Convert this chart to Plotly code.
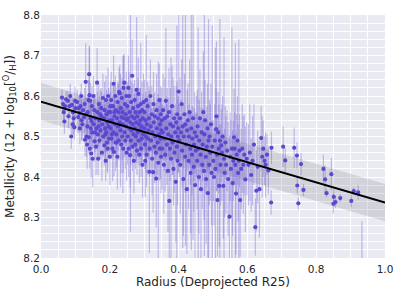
import plotly.graph_objects as go

# ---- data ----
radius = [
    0.061, 0.066, 0.068, 0.073, 0.078, 0.083, 0.088, 0.090, 0.093, 0.097, 0.100, 0.080, 0.070, 0.095, 0.085, 0.099, 0.064, 0.092,
    0.105, 0.110, 0.112, 0.115, 0.118, 0.120, 0.122, 0.125, 0.128, 0.130, 0.132, 0.134, 0.136, 0.138, 0.140, 0.141, 0.142, 0.144, 0.145, 0.146, 0.148, 0.149, 0.150, 0.113, 0.117, 0.127, 0.131, 0.135, 0.139, 0.143, 0.147, 0.108,
    0.152, 0.153, 0.155, 0.156, 0.158, 0.160, 0.161, 0.163, 0.164, 0.165, 0.166, 0.168, 0.169, 0.170, 0.172, 0.173, 0.175, 0.176, 0.177, 0.178, 0.180, 0.181, 0.183, 0.184, 0.185, 0.186, 0.188, 0.189, 0.190, 0.191, 0.192, 0.193, 0.194, 0.195, 0.196, 0.197, 0.198, 0.199, 0.200, 0.157, 0.167, 0.187,
    0.201, 0.203, 0.204, 0.205, 0.207, 0.208, 0.209, 0.210, 0.211, 0.212, 0.214, 0.215, 0.216, 0.217, 0.218, 0.219, 0.221, 0.222, 0.223, 0.224, 0.225, 0.226, 0.227, 0.228, 0.229, 0.231, 0.232, 0.233, 0.234, 0.235, 0.236, 0.237, 0.238, 0.239, 0.240, 0.241, 0.242, 0.243, 0.244, 0.245, 0.246, 0.247, 0.248, 0.249, 0.250, 0.202, 0.206, 0.213, 0.220, 0.230,
    0.251, 0.252, 0.253, 0.254, 0.255, 0.256, 0.257, 0.258, 0.259, 0.260, 0.261, 0.262, 0.263, 0.264, 0.265, 0.266, 0.267, 0.268, 0.269, 0.270, 0.271, 0.272, 0.273, 0.274, 0.275, 0.276, 0.277, 0.278, 0.279, 0.280, 0.281, 0.282, 0.283, 0.284, 0.285, 0.286, 0.287, 0.288, 0.289, 0.290, 0.291, 0.292, 0.293, 0.294, 0.295, 0.296, 0.297, 0.298,
    0.300, 0.301, 0.302, 0.304, 0.305, 0.306, 0.307, 0.308, 0.310, 0.311, 0.312, 0.314, 0.315, 0.316, 0.318, 0.319, 0.320, 0.322, 0.323, 0.324, 0.326, 0.327, 0.328, 0.330, 0.331, 0.332, 0.334, 0.335, 0.336, 0.337, 0.339, 0.340, 0.341, 0.343, 0.344, 0.345, 0.346, 0.347, 0.348, 0.349, 0.350, 0.303,
    0.351, 0.352, 0.354, 0.355, 0.357, 0.358, 0.360, 0.361, 0.363, 0.364, 0.366, 0.367, 0.369, 0.370, 0.372, 0.373, 0.375, 0.376, 0.378, 0.379, 0.381, 0.382, 0.384, 0.385, 0.387, 0.388, 0.390, 0.392, 0.393, 0.395, 0.396, 0.397, 0.398, 0.400, 0.399,
    0.402, 0.404, 0.405, 0.407, 0.409, 0.410, 0.412, 0.414, 0.415, 0.417, 0.419, 0.420, 0.422, 0.424, 0.425, 0.427, 0.429, 0.430, 0.432, 0.434, 0.435, 0.437, 0.439, 0.440, 0.442, 0.444, 0.445, 0.447, 0.448, 0.450,
    0.452, 0.454, 0.455, 0.457, 0.459, 0.460, 0.462, 0.464, 0.465, 0.467, 0.469, 0.470, 0.472, 0.474, 0.475, 0.477, 0.479, 0.480, 0.482, 0.484, 0.485, 0.487, 0.489, 0.490, 0.492, 0.494, 0.496, 0.498,
    0.501, 0.503, 0.505, 0.507, 0.509, 0.510, 0.512, 0.513, 0.515, 0.517, 0.518, 0.520, 0.522, 0.524, 0.526, 0.528, 0.530, 0.532, 0.534, 0.536, 0.538, 0.541, 0.544, 0.548, 0.550,
    0.552, 0.555, 0.557, 0.559, 0.561, 0.563, 0.565, 0.567, 0.569, 0.571, 0.573, 0.575, 0.577, 0.579, 0.582, 0.585, 0.588, 0.591, 0.594, 0.598,
    0.603, 0.607, 0.611, 0.615, 0.619, 0.623, 0.626, 0.630, 0.635, 0.640, 0.643, 0.646, 0.650, 0.653, 0.657, 0.661, 0.669, 0.670,
    0.704, 0.710, 0.736, 0.744, 0.756, 0.745, 0.763, 0.748, 0.821, 0.826, 0.830, 0.844, 0.851, 0.856, 0.850, 0.870, 0.902, 0.909, 0.922, 0.933,
]

metallicity = [
    8.596, 8.560, 8.537, 8.592, 8.588, 8.575, 8.500, 8.578, 8.560, 8.523, 8.570, 8.550, 8.575, 8.545, 8.600, 8.588, 8.580, 8.530,
    8.585, 8.570, 8.558, 8.575, 8.540, 8.530, 8.565, 8.548, 8.492, 8.635, 8.500, 8.480, 8.560, 8.590, 8.654, 8.602, 8.470, 8.545, 8.520, 8.458, 8.575, 8.510, 8.445, 8.520, 8.600, 8.580, 8.555, 8.525, 8.498, 8.588, 8.538, 8.548,
    8.600, 8.530, 8.565, 8.488, 8.545, 8.475, 8.520, 8.633, 8.560, 8.505, 8.445, 8.580, 8.540, 8.490, 8.555, 8.515, 8.570, 8.550, 8.460, 8.530, 8.595, 8.500, 8.545, 8.478, 8.565, 8.520, 8.440, 8.590, 8.510, 8.555, 8.485, 8.535, 8.470, 8.600, 8.525, 8.560, 8.495, 8.540, 8.450, 8.510, 8.525, 8.505,
    8.560, 8.520, 8.590, 8.495, 8.540, 8.470, 8.575, 8.510, 8.630, 8.462, 8.550, 8.530, 8.600, 8.485, 8.565, 8.505, 8.545, 8.450, 8.585, 8.525, 8.560, 8.490, 8.610, 8.535, 8.607, 8.515, 8.570, 8.480, 8.548, 8.595, 8.500, 8.560, 8.530, 8.470, 8.620, 8.545, 8.633, 8.510, 8.580, 8.490, 8.555, 8.525, 8.600, 8.460, 8.540, 8.575, 8.505, 8.560, 8.485, 8.530,
    8.575, 8.500, 8.545, 8.620, 8.470, 8.600, 8.520, 8.560, 8.454, 8.535, 8.490, 8.585, 8.515, 8.550, 8.650, 8.475, 8.530, 8.570, 8.505, 8.440, 8.545, 8.590, 8.520, 8.480, 8.560, 8.500, 8.535, 8.615, 8.465, 8.550, 8.510, 8.575, 8.605, 8.490, 8.530, 8.455, 8.560, 8.515, 8.540, 8.580, 8.470, 8.525, 8.495, 8.565, 8.430, 8.545, 8.505, 8.585,
    8.520, 8.560, 8.480, 8.540, 8.500, 8.590, 8.455, 8.530, 8.575, 8.495, 8.515, 8.545, 8.413, 8.470, 8.600, 8.525, 8.490, 8.555, 8.445, 8.510, 8.412, 8.580, 8.535, 8.475, 8.550, 8.500, 8.460, 8.396, 8.565, 8.520, 8.485, 8.545, 8.435, 8.505, 8.590, 8.470, 8.530, 8.495, 8.555, 8.450, 8.515, 8.440,
    8.540, 8.470, 8.510, 8.565, 8.430, 8.495, 8.545, 8.455, 8.588, 8.520, 8.480, 8.550, 8.415, 8.505, 8.560, 8.341, 8.470, 8.530, 8.445, 8.500, 8.575, 8.485, 8.525, 8.420, 8.545, 8.460, 8.510, 8.388, 8.535, 8.475, 8.555, 8.440, 8.500, 8.611, 8.520,
    8.490, 8.545, 8.430, 8.510, 8.580, 8.465, 8.525, 8.395, 8.500, 8.555, 8.450, 8.530, 8.480, 8.370, 8.515, 8.540, 8.440, 8.500, 8.560, 8.470, 8.410, 8.520, 8.455, 8.495, 8.545, 8.425, 8.480, 8.510, 8.380, 8.465,
    8.500, 8.440, 8.525, 8.470, 8.400, 8.490, 8.545, 8.455, 8.370, 8.510, 8.430, 8.480, 8.560, 8.415, 8.505, 8.540, 8.450, 8.395, 8.475, 8.520, 8.360, 8.490, 8.430, 8.500, 8.460, 8.530, 8.410, 8.475,
    8.440, 8.400, 8.490, 8.420, 8.518, 8.550, 8.455, 8.343, 8.510, 8.470, 8.378, 8.490, 8.430, 8.478, 8.460, 8.500, 8.378, 8.445, 8.410, 8.485, 8.430, 8.465, 8.395, 8.302, 8.450,
    8.420, 8.470, 8.385, 8.440, 8.498, 8.470, 8.430, 8.359, 8.455, 8.490, 8.410, 8.440, 8.465, 8.343, 8.420, 8.470, 8.430, 8.455, 8.394, 8.445,
    8.430, 8.460, 8.405, 8.440, 8.480, 8.276, 8.366, 8.425, 8.370, 8.496, 8.450, 8.470, 8.440, 8.430, 8.455, 8.416, 8.337, 8.472,
    8.475, 8.441, 8.472, 8.453, 8.432, 8.379, 8.368, 8.335, 8.420, 8.394, 8.360, 8.407, 8.351, 8.338, 8.334, 8.348, 8.341, 8.365, 8.362, 8.130,
]

metallicity_err = [
    0.02, 0.025, 0.03, 0.02, 0.025, 0.03, 0.03, 0.02, 0.035, 0.03, 0.025, 0.03, 0.02, 0.04, 0.03, 0.035, 0.02, 0.03,
    0.03, 0.03, 0.04, 0.035, 0.05, 0.04, 0.03, 0.045, 0.04, 0.095, 0.05, 0.06, 0.04, 0.05, 0.07, 0.12, 0.05, 0.04, 0.05, 0.06, 0.05, 0.04, 0.07, 0.04, 0.03, 0.04, 0.04, 0.035, 0.04, 0.045, 0.05, 0.04,
    0.05, 0.06, 0.04, 0.05, 0.06, 0.07, 0.05, 0.085, 0.05, 0.06, 0.04, 0.05, 0.06, 0.05, 0.06, 0.07, 0.05, 0.06, 0.07, 0.05, 0.06, 0.05, 0.06, 0.05, 0.07, 0.06, 0.05, 0.06, 0.05, 0.06, 0.07, 0.05, 0.06, 0.07, 0.05, 0.06, 0.05, 0.06, 0.07, 0.05, 0.05, 0.06,
    0.05, 0.06, 0.07, 0.05, 0.06, 0.08, 0.05, 0.06, 0.07, 0.06, 0.05, 0.06, 0.05, 0.07, 0.06, 0.05, 0.06, 0.08, 0.05, 0.06, 0.07, 0.05, 0.06, 0.05, 0.07, 0.14, 0.05, 0.07, 0.06, 0.05, 0.06, 0.05, 0.17, 0.06, 0.08, 0.05, 0.07, 0.06, 0.05, 0.07, 0.06, 0.05, 0.06, 0.07, 0.05, 0.06, 0.05, 0.07, 0.06, 0.05,
    0.06, 0.07, 0.05, 0.08, 0.07, 0.06, 0.05, 0.06, 0.08, 0.27, 0.06, 0.05, 0.06, 0.07, 0.09, 0.06, 0.05, 0.06, 0.07, 0.08, 0.06, 0.05, 0.07, 0.06, 0.05, 0.06, 0.07, 0.18, 0.06, 0.05, 0.06, 0.07, 0.09, 0.06, 0.05, 0.07, 0.06, 0.05, 0.08, 0.15, 0.07, 0.05, 0.06, 0.07, 0.08, 0.06, 0.05, 0.07,
    0.07, 0.08, 0.06, 0.07, 0.09, 0.16, 0.08, 0.07, 0.06, 0.09, 0.07, 0.08, 0.20, 0.07, 0.09, 0.06, 0.08, 0.07, 0.09, 0.06, 0.10, 0.08, 0.07, 0.09, 0.06, 0.08, 0.07, 0.12, 0.09, 0.07, 0.08, 0.06, 0.25, 0.07, 0.09, 0.08, 0.06, 0.10, 0.07, 0.09, 0.08, 0.09,
    0.08, 0.10, 0.07, 0.09, 0.12, 0.08, 0.10, 0.09, 0.18, 0.08, 0.10, 0.07, 0.15, 0.09, 0.11, 0.20, 0.08, 0.09, 0.25, 0.07, 0.10, 0.08, 0.12, 0.09, 0.08, 0.10, 0.07, 0.15, 0.09, 0.30, 0.08, 0.11, 0.09, 0.20, 0.08,
    0.09, 0.10, 0.12, 0.08, 0.11, 0.09, 0.30, 0.14, 0.08, 0.10, 0.09, 0.30, 0.08, 0.16, 0.10, 0.09, 0.12, 0.08, 0.13, 0.09, 0.15, 0.30, 0.10, 0.08, 0.30, 0.11, 0.09, 0.10, 0.18, 0.09,
    0.10, 0.12, 0.09, 0.30, 0.14, 0.10, 0.12, 0.09, 0.20, 0.10, 0.11, 0.09, 0.15, 0.12, 0.30, 0.10, 0.09, 0.16, 0.10, 0.11, 0.18, 0.30, 0.10, 0.09, 0.12, 0.10, 0.13, 0.30,
    0.10, 0.12, 0.09, 0.30, 0.10, 0.185, 0.09, 0.14, 0.10, 0.11, 0.15, 0.30, 0.10, 0.09, 0.12, 0.10, 0.13, 0.30, 0.11, 0.09, 0.12, 0.10, 0.14, 0.20, 0.11,
    0.12, 0.30, 0.13, 0.10, 0.12, 0.09, 0.30, 0.15, 0.10, 0.11, 0.12, 0.30, 0.09, 0.14, 0.10, 0.11, 0.12, 0.10, 0.13, 0.09,
    0.10, 0.12, 0.09, 0.11, 0.10, 0.07, 0.10, 0.09, 0.12, 0.08, 0.10, 0.07, 0.06, 0.08, 0.05, 0.06, 0.03, 0.04,
    0.05, 0.03, 0.05, 0.032, 0.027, 0.02, 0.015, 0.015, 0.035, 0.035, 0.01, 0.04, 0.025, 0.015, 0.025, 0.01, 0.015, 0.01, 0.018, 0.16,
]

# linear fit and scatter band
fit_intercept = 8.586
fit_slope = -0.249
band_halfwidth = 0.046
fit_x = [0.0, 1.0]

x_ticks = [0.0, 0.2, 0.4, 0.6, 0.8, 1.0]
y_ticks = [8.2, 8.3, 8.4, 8.5, 8.6, 8.7, 8.8]

assert len(radius) == len(metallicity) == len(metallicity_err)

fit_y = [fit_intercept + fit_slope * x for x in fit_x]
band_upper = [y + band_halfwidth for y in fit_y]
band_lower = [y - band_halfwidth for y in fit_y]

fig = go.Figure()

fig.add_trace(go.Scatter(
    x=fit_x + fit_x[::-1],
    y=band_upper + band_lower[::-1],
    fill="toself",
    fillcolor="rgba(140,140,150,0.25)",
    line=dict(width=0),
    mode="lines",
    hoverinfo="skip",
    showlegend=False,
))

fig.add_trace(go.Scatter(
    x=radius,
    y=metallicity,
    mode="markers",
    marker=dict(size=4.2, color="rgb(90,72,208)"),
    error_y=dict(type="data", array=metallicity_err, visible=True,
                 color="rgba(106,90,205,0.36)", thickness=1.2, width=0),
    showlegend=False,
))

fig.add_trace(go.Scatter(
    x=fit_x, y=fit_y, mode="lines",
    line=dict(color="black", width=2),
    showlegend=False,
))

axis_common = dict(
    showgrid=True, gridcolor="white", gridwidth=1.1,
    zeroline=False, showline=False, ticks="",
    tickfont=dict(size=10.5, color="#262626"),
    tickformat=".1f",
    ticklabeloverflow="allow",
    automargin=False,
)

fig.update_layout(
    width=395, height=296,
    margin=dict(l=41, r=10, t=15, b=38),
    plot_bgcolor="#EAEAF2",
    paper_bgcolor="white",
    font=dict(family="DejaVu Sans", color="#262626"),
    xaxis=dict(
        range=[0, 1], tickvals=x_ticks,
        minor=dict(dtick=0.05, showgrid=True, gridcolor="white", gridwidth=0.6),
        ticklabelstandoff=3,
        title=dict(text="Radius (Deprojected R25)", font=dict(size=12), standoff=4),
        **axis_common,
    ),
    yaxis=dict(
        range=[8.2, 8.8], tickvals=y_ticks,
        minor=dict(dtick=0.02, showgrid=True, gridcolor="white", gridwidth=0.6),
        title=dict(text="Metallicity (12 + log<sub>10</sub>[<sup>O</sup>/<sub>H</sub>])",
                   font=dict(size=12), standoff=6),
        **axis_common,
    ),
)

fig.write_html("out.html", config={"displayModeBar": False},
               post_script="document.body.style.margin='0';")
